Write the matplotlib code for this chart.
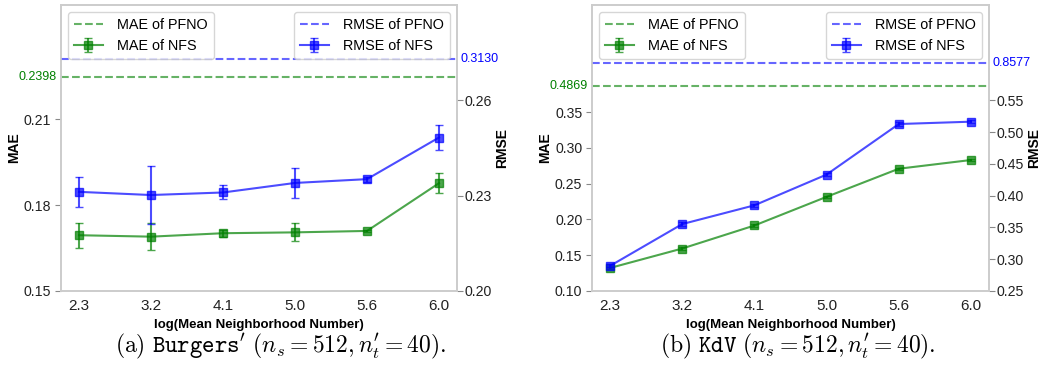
import matplotlib
matplotlib.use('Agg')
import matplotlib.pyplot as plt
import numpy as np

# x categories (equally spaced)
x_labels = ['2.3', '3.2', '4.1', '5.0', '5.6', '6.0']

# Burgers'
burgers_mae = [0.1695, 0.1690, 0.1702, 0.1705, 0.1710, 0.1877]
burgers_mae_err = [0.0044, 0.0048, 0.0013, 0.0031, 0.0005, 0.0036]
burgers_rmse = [0.2312, 0.2302, 0.2310, 0.2340, 0.2352, 0.2483]
burgers_rmse_err = [0.0048, 0.0092, 0.0022, 0.0048, 0.0008, 0.0039]
burgers_pfno_mae = 0.2398
burgers_pfno_rmse = 0.3130

# KdV
kdv_mae = [0.1322, 0.1594, 0.1916, 0.2317, 0.2710, 0.2832]
kdv_mae_err = [0.0015, 0.0015, 0.0015, 0.0015, 0.0015, 0.0015]
kdv_rmse = [0.2895, 0.3553, 0.3848, 0.4332, 0.5127, 0.5164]
kdv_rmse_err = [0.0025, 0.0025, 0.0025, 0.0025, 0.0025, 0.0025]
kdv_pfno_mae = 0.4869
kdv_pfno_rmse = 0.8577

plt.rcParams['font.family'] = ['Liberation Sans', 'DejaVu Sans']
plt.rcParams['mathtext.fontset'] = 'cm'

fig = plt.figure(figsize=(10.48, 3.67), dpi=100)


def draw_panel(rect, mae, mae_err, rmse, rmse_err, pfno_mae, pfno_rmse,
               mae_lim, rmse_lim, mae_ticks, rmse_ticks, mae_line_y, rmse_line_y,
               caption, caption_x):
    ax = fig.add_axes(rect)
    ax2 = ax.twinx()
    x = np.arange(len(x_labels))

    l1 = ax.axhline(mae_line_y, color='green', linestyle='--', alpha=0.6, label='MAE of PFNO')
    e1 = ax.errorbar(x, mae, yerr=mae_err, color='green', marker='s', markersize=5.5,
                     capsize=3, alpha=0.7, label='MAE of NFS')
    l2 = ax2.axhline(rmse_line_y, color='blue', linestyle='--', alpha=0.6, label='RMSE of PFNO')
    e2 = ax2.errorbar(x, rmse, yerr=rmse_err, color='blue', marker='s', markersize=5.5,
                      capsize=3, alpha=0.7, label='RMSE of NFS')

    ax.set_xlim(-0.25, 5.25)
    ax.set_ylim(*mae_lim)
    ax2.set_ylim(*rmse_lim)
    ax.set_yticks(mae_ticks)
    ax2.set_yticks(rmse_ticks)
    ax.set_xticks(x)
    ax.set_xticklabels(x_labels, fontsize=11)
    ax.tick_params(axis='y', labelsize=10.2, length=4, pad=3, color='#888888', labelcolor='#222222')
    ax.tick_params(axis='x', length=0, pad=6, labelcolor='#222222')
    ax2.tick_params(axis='y', labelsize=10.2, length=4, pad=1.5, color='#888888', labelcolor='#222222')

    ax.set_ylabel('MAE', fontsize=10, fontweight='bold', labelpad=2)
    ax2.set_ylabel('RMSE', fontsize=10, fontweight='bold', labelpad=2)
    ax.set_xlabel('log(Mean Neighborhood Number)', fontsize=9.5, fontweight='bold', labelpad=4)

    for a in (ax, ax2):
        for s in a.spines.values():
            s.set_color('#cccccc')
            s.set_linewidth(1.2)

    ax.text(-0.01, mae_line_y, f'{pfno_mae:.4f}', color='green', fontsize=9,
            transform=ax.get_yaxis_transform(), ha='right', va='center')
    ax2.text(1.01, rmse_line_y, f'{pfno_rmse:.4f}', color='blue', fontsize=9,
             transform=ax2.get_yaxis_transform(), ha='left', va='center')

    leg_kw = dict(fontsize=10.4, edgecolor='#cccccc', borderaxespad=0.5,
                  handlelength=2.0, handletextpad=1.0)
    leg1 = ax2.legend([l1, e1], ['MAE of PFNO', 'MAE of NFS'], loc='upper left', **leg_kw)
    ax2.add_artist(leg1)
    ax2.legend([l2, e2], ['RMSE of PFNO', 'RMSE of NFS'], loc='upper right', **leg_kw)

    fig.text(caption_x, 0.017, caption, ha='center', va='bottom', fontsize=17)


draw_panel([0.0582, 0.2071, 0.3779, 0.7793],
           burgers_mae, burgers_mae_err, burgers_rmse, burgers_rmse_err,
           burgers_pfno_mae, burgers_pfno_rmse,
           (0.15, 0.25), (0.20, 0.29), [0.15, 0.18, 0.21], [0.20, 0.23, 0.26],
           0.2248, 0.273,
           r"$\mathrm{(a)}\ \mathtt{Burgers'}\ (n_s = 512, n_t' = 40).$", 0.268)
draw_panel([0.5649, 0.2071, 0.3788, 0.7793],
           kdv_mae, kdv_mae_err, kdv_rmse, kdv_rmse_err,
           kdv_pfno_mae, kdv_pfno_rmse,
           (0.10, 0.50), (0.25, 0.70),
           [0.10, 0.15, 0.20, 0.25, 0.30, 0.35],
           [0.25, 0.30, 0.35, 0.40, 0.45, 0.50, 0.55],
           0.3873, 0.609,
           r"$\mathrm{(b)}\ \mathtt{KdV}\ (n_s = 512, n_t' = 40).$", 0.761)

fig.savefig('out.png', dpi=100)
